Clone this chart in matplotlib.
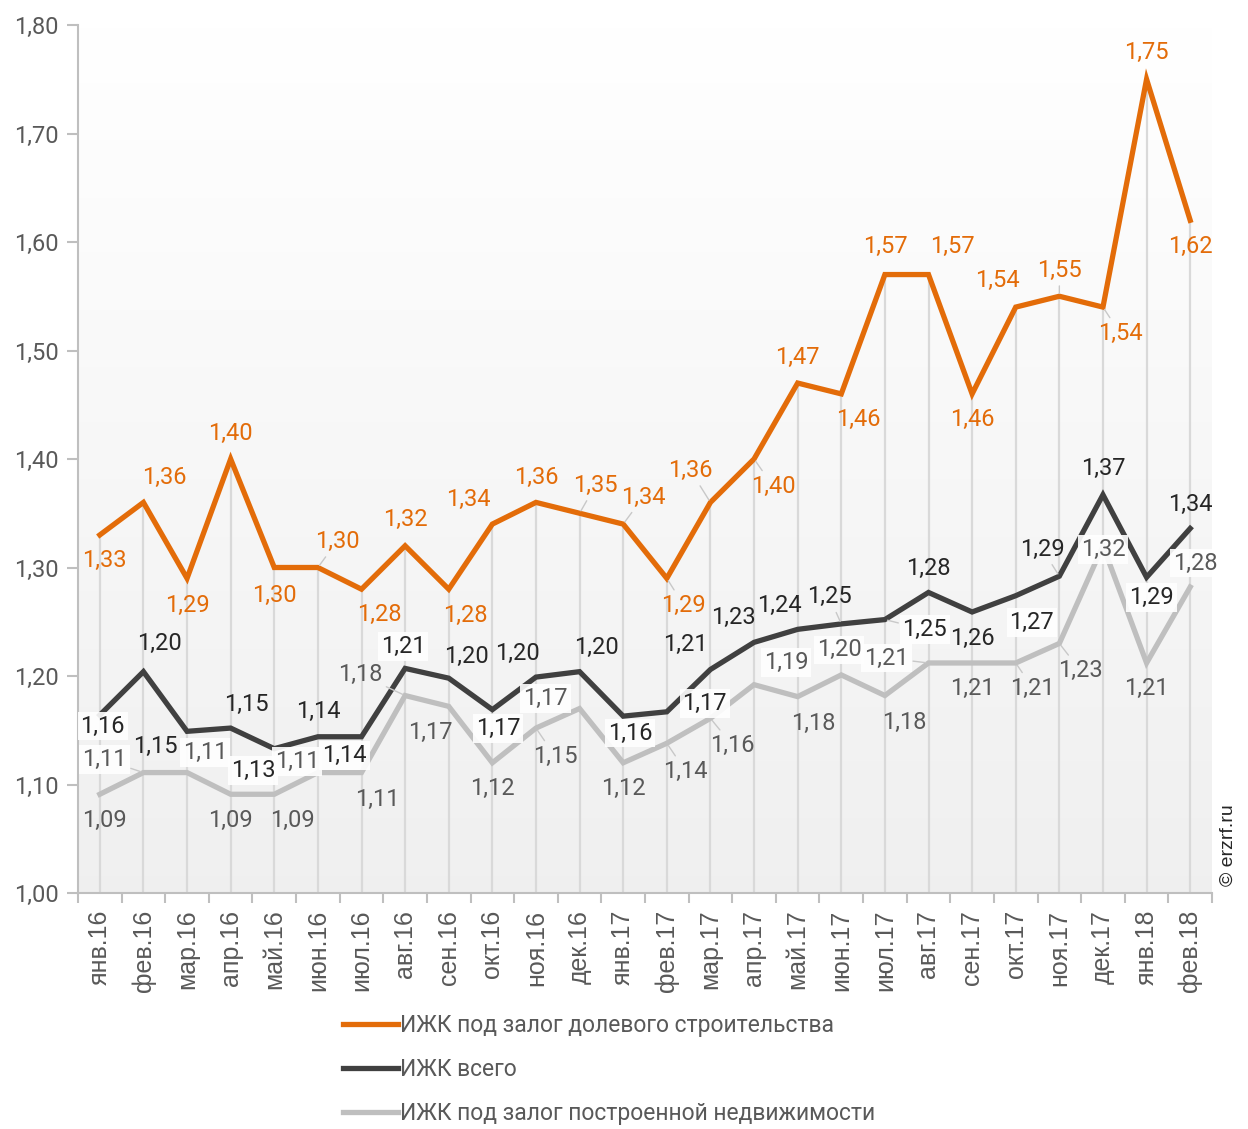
import matplotlib
matplotlib.use("Agg")
import matplotlib.pyplot as plt
import numpy as np

categories = ["янв.16", "фев.16", "мар.16", "апр.16", "май.16", "июн.16", "июл.16",
              "авг.16", "сен.16", "окт.16", "ноя.16", "дек.16", "янв.17", "фев.17",
              "мар.17", "апр.17", "май.17", "июн.17", "июл.17", "авг.17", "сен.17",
              "окт.17", "ноя.17", "дек.17", "янв.18", "фев.18"]

shared = [1.33, 1.36, 1.29, 1.40, 1.30, 1.30, 1.28, 1.32, 1.28, 1.34, 1.36, 1.35, 1.34,
          1.29, 1.36, 1.40, 1.47, 1.46, 1.57, 1.57, 1.46, 1.54, 1.55, 1.54, 1.75, 1.62]
total = [1.164, 1.204, 1.149, 1.152, 1.133, 1.144, 1.144, 1.207, 1.198, 1.169, 1.199,
         1.204, 1.163, 1.167, 1.206, 1.231, 1.243, 1.248, 1.252, 1.277, 1.259, 1.274,
         1.292, 1.367, 1.291, 1.336]
built = [1.091, 1.111, 1.111, 1.091, 1.091, 1.111, 1.111, 1.182, 1.172, 1.120, 1.152,
         1.170, 1.120, 1.138, 1.161, 1.192, 1.181, 1.201, 1.182, 1.212, 1.212, 1.212,
         1.230, 1.320, 1.212, 1.282]

series_names = ["ИЖК под залог долевого строительства", "ИЖК всего",
                "ИЖК под залог построенной недвижимости"]
yticks = [1.00, 1.10, 1.20, 1.30, 1.40, 1.50, 1.60, 1.70, 1.80]

# label offsets in pixels (dx right, dy down)
off_shared = [(5, 26), (21, -25), (0, 27), (0, -26), (0, 28), (19, -26), (18, 25), (0, -26),
              (17, 26), (-24, -25), (0, -25), (16, -28), (20, -27), (17, 27), (-20, -32),
              (19, 27), (0, -26), (17, 26), (0, -28), (24, -28), (0, 26), (-18, -27),
              (0, -26), (17, 26), (0, -27), (0, 26)]
off_total = [(3, 11), (16, -28), (-32, 15), (16, -24), (-21, 22), (0, -25), (-17, 19),
             (-2, -22), (18, -22), (6, 19), (-19, -24), (17, -24), (7, 17), (38, -8),
             (-25, -25), (-21, -25), (-18, -24), (-12, -27), (40, 10), (0, -24), (0, 26),
             (16, 27), (-17, -27), (0, -26), (5, 20), (0, -24)]
off_built = [(5, 26), (-39, -13), (18, -20), (0, 26), (18, 26), (-21, -11), (16, 27),
             (-45, -21), (-18, 26), (0, 26), (19, 28), (-34, -10), (0, 26), (19, 28),
             (22, 27), (32, -22), (16, 27), (-2, -25), (19, 27), (-42, -5), (0, 25),
             (17, 25), (21, 27), (0, 4), (0, 25), (5, -24)]
box_total = {0, 4, 6, 7, 9, 12, 13, 18, 21, 24}
box_built = {1, 2, 5, 11, 15, 17, 19, 23, 25}
lead_shared = {5, 11, 12, 13, 14, 15, 22, 23}
lead_total = {17, 18, 22}
lead_built = {1, 7, 10, 13, 14, 19, 21, 22}

C_OR = "#E36C09"
C_BK = "#404040"
C_GR = "#BFBFBF"

plt.rcParams['font.family'] = ['Roboto', 'DejaVu Sans']

fig = plt.figure(figsize=(12.48, 11.29), dpi=100)
ax = fig.add_axes([78 / 1248, 1 - 893 / 1129, (1212 - 78) / 1248, (893 - 25) / 1129])

n = len(categories)
x = np.arange(n)

# gradient background
grad = np.linspace(1.0, 0.94, 256).reshape(-1, 1)
ax.imshow(np.dstack([grad, grad, grad]), extent=[-0.5, n - 0.5, 1.0, 1.8],
          aspect='auto', zorder=0, origin='upper')
ax.set_xlim(-0.5, n - 0.5)
ax.set_ylim(1.0, 1.8)

# drop lines
top = np.maximum(np.maximum(shared, total), built)
ax.vlines(x, 1.0, top, color="#D9D9D9", lw=1.6, zorder=1)

ax.plot(x, built, color=C_GR, lw=3.8, zorder=3, solid_joinstyle='miter', label=series_names[2])
ax.plot(x, total, color=C_BK, lw=3.8, zorder=4, solid_joinstyle='miter', label=series_names[1])
ax.plot(x, shared, color=C_OR, lw=3.8, zorder=5, solid_joinstyle='miter', label=series_names[0])


def fmt(v):
    return f"{round(v + 1e-9, 2):.2f}".replace('.', ',')


def put_labels(vals, offs, color, boxes, leads, z):
    for i, v in enumerate(vals):
        dx, dy = offs[i]
        kw = {}
        if i in boxes:
            kw['bbox'] = dict(boxstyle='square,pad=0.12', facecolor='white',
                              edgecolor='none', alpha=0.9)
        if i in leads:
            kw['arrowprops'] = dict(arrowstyle='-', color='#C8C8C8', lw=1.0,
                                    shrinkA=1, shrinkB=2)
        ax.annotate(fmt(v), xy=(i, v), xytext=(dx, -dy), textcoords='offset pixels',
                    ha='center', va='center', fontsize=17, color=color, zorder=z, **kw)


put_labels(built, off_built, "#595959", box_built, lead_built, 6)
put_labels(total, off_total, "#262626", box_total, lead_total, 7)
put_labels(shared, off_shared, C_OR, set(), lead_shared, 8)

# axes styling
for s in ['top', 'right']:
    ax.spines[s].set_visible(False)
for s in ['left', 'bottom']:
    ax.spines[s].set_color('#BFBFBF')
    ax.spines[s].set_linewidth(1.5)
    ax.spines[s].set_zorder(2)

ax.set_yticks(yticks)
ax.set_yticklabels([fmt(v) for v in yticks], fontsize=17, color='#595959')
ax.tick_params(axis='y', length=8, width=1.5, color='#BFBFBF', pad=6)

ax.set_xticks(x)
ax.set_xticklabels(categories, rotation=90, fontsize=18, color='#595959',
                   family=['Liberation Sans', 'DejaVu Sans'])
ax.tick_params(axis='x', length=0, pad=12)
ax.set_xticks(np.arange(-0.5, n, 1.0), minor=True)
ax.tick_params(axis='x', which='minor', length=7, width=1.5, color='#BFBFBF')

fig.text(1228 / 1248, 1 - 845 / 1129, "© erzrf.ru", rotation=90, ha='center', va='center',
         fontsize=14, color='#262626', family=['Liberation Sans', 'DejaVu Sans'])

handles, labels = ax.get_legend_handles_labels()
order = [2, 1, 0]
leg = fig.legend([handles[k] for k in order], [labels[k] for k in order],
                 loc='upper left', bbox_to_anchor=(343 / 1248, 1 - 1014 / 1129),
                 frameon=False, fontsize=16.5, handlelength=2.4, handletextpad=0.1,
                 labelspacing=0.92, borderaxespad=0, borderpad=0)
for t in leg.get_texts():
    t.set_color('#595959')

fig.savefig("out.png", dpi=100)
